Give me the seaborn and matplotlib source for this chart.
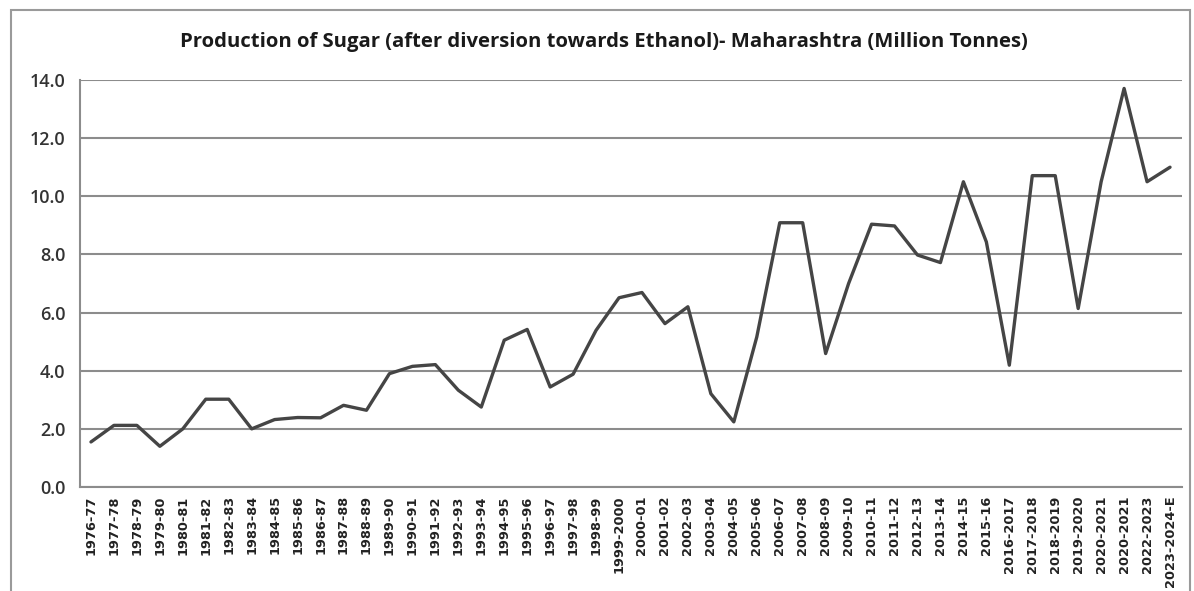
import numpy as np
import pandas as pd

import matplotlib
matplotlib.use("Agg")

import matplotlib.pyplot as plt
from matplotlib.patches import Rectangle
import seaborn as sns

seasons = [
    "1976-77", "1977-78", "1978-79", "1979-80", "1980-81", "1981-82",
    "1982-83", "1983-84", "1984-85", "1985-86", "1986-87", "1987-88",
    "1988-89", "1989-90", "1990-91", "1991-92", "1992-93", "1993-94",
    "1994-95", "1995-96", "1996-97", "1997-98", "1998-99", "1999-2000",
    "2000-01", "2001-02", "2002-03", "2003-04", "2004-05", "2005-06",
    "2006-07", "2007-08", "2008-09", "2009-10", "2010-11", "2011-12",
    "2012-13", "2013-14", "2014-15", "2015-16", "2016-2017", "2017-2018",
    "2018-2019", "2019-2020", "2020-2021", "2020-2021", "2022-2023",
    "2023-2024-E",
]
production = [
    1.55, 2.12, 2.12, 1.40, 2.00, 3.02,
    3.02, 2.00, 2.32, 2.39, 2.38, 2.81,
    2.64, 3.90, 4.15, 4.21, 3.33, 2.75,
    5.05, 5.42, 3.44, 3.88, 5.39, 6.51,
    6.69, 5.62, 6.20, 3.21, 2.24, 5.16,
    9.09, 9.09, 4.59, 7.00, 9.04, 8.98,
    7.98, 7.72, 10.50, 8.43, 4.19, 10.71,
    10.71, 6.14, 10.50, 13.71, 10.50, 11.00,
]
title = "Production of Sugar (after diversion towards Ethanol)- Maharashtra (Million Tonnes)"

df = pd.DataFrame({"pos": np.arange(len(seasons)), "value": production})

sns.set_style("white")
plt.rcParams["font.family"] = ["DejaVu Sans"]

W, H = 1194, 591
fig = plt.figure(figsize=(W / 100, H / 100), dpi=100)
ax = fig.add_axes([79.5 / W, (H - 487) / H, (1181.5 - 79.5) / W, (487 - 80) / H])

sns.lineplot(data=df, x="pos", y="value", ax=ax, color="#454545", linewidth=2.4)

grid_c = "#8c8c8c"
ax.set_ylim(0, 14)
ax.set_xlim(-0.5, len(seasons) - 0.5)
ax.set_yticks(np.arange(0, 14.1, 2))
ax.set_yticklabels([f"{v:.1f}" for v in np.arange(0, 14.1, 2)],
                   fontsize=13, color="#333333", family="Open Sans",
                   fontweight="semibold")
ax.yaxis.grid(True, color=grid_c, linewidth=1.5)
ax.set_axisbelow(True)

ax.set_xticks(np.arange(len(seasons)))
ax.set_xticklabels(seasons, rotation=90, fontsize=9.3, color="#222222",
                   fontweight="bold")
ax.set_xticks(np.arange(-0.5, len(seasons)), minor=True)
ax.tick_params(axis="x", which="major", length=0, pad=6)
ax.tick_params(axis="x", which="minor", length=5, width=1.2, color=grid_c,
               direction="out")
ax.tick_params(axis="y", length=5, width=1.2, color=grid_c, pad=5)
ax.set_xlabel("")
ax.set_ylabel("")

for s in ["top", "right"]:
    ax.spines[s].set_visible(False)
for s in ["left", "bottom"]:
    ax.spines[s].set_color(grid_c)
    ax.spines[s].set_linewidth(1.5)

fig.text(604 / W, (H - 42) / H, title, ha="center", va="center",
         fontsize=14.6, fontweight="bold", family="Open Sans", color="#1a1a1a")

# outer chart border
fig.add_artist(Rectangle((11 / W, -0.05), (1190 - 11) / W, (H - 10) / H + 0.05,
                         transform=fig.transFigure, fill=False,
                         edgecolor="#9a9a9a", linewidth=1.5))

fig.savefig("out.png", dpi=100)
plt.close(fig)
